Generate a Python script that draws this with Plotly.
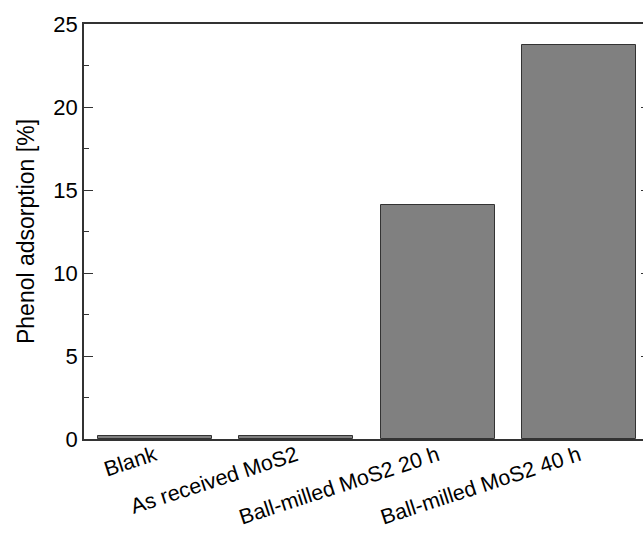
import plotly.graph_objects as go

categories = ["Blank", "As received MoS2", "Ball-milled MoS2 20 h", "Ball-milled MoS2 40 h"]
values = [0.2, 0.2, 14.1, 23.75]
y_ticks = [0, 5, 10, 15, 20, 25]

fig = go.Figure()
fig.add_trace(go.Bar(
    x=list(range(len(categories))), y=values,
    width=0.806,
    marker=dict(color="#808080", line=dict(color="#333333", width=1)),
))
# invisible trace for the mirrored right-side ticks
fig.add_trace(go.Scatter(x=[0], y=[0], yaxis="y2", mode="markers",
                         marker=dict(opacity=0), hoverinfo="skip", showlegend=False))

axis_col = "#333333"
fig.update_layout(
    width=643, height=535,
    margin=dict(l=84, r=0, t=24, b=96),
    paper_bgcolor="white", plot_bgcolor="white",
    showlegend=False,
    font=dict(family="Liberation Sans, Arial, sans-serif", color="black"),
    bargap=0,
    xaxis=dict(
        range=[-0.5, 3.452],
        tickmode="array", tickvals=list(range(len(categories))), ticktext=categories,
        tickangle=-18, tickfont=dict(size=21.5), ticklabelstandoff=-6,
        showline=True, linecolor=axis_col, linewidth=1.5, mirror=True,
        ticks="", showgrid=False, zeroline=False,
    ),
    yaxis=dict(
        range=[0, 25],
        tickmode="array", tickvals=y_ticks,
        tickfont=dict(size=22),
        ticks="inside", ticklen=9, tickcolor=axis_col, tickwidth=1.2,
        minor=dict(dtick=2.5, ticks="inside", ticklen=5, tickcolor=axis_col, tickwidth=1.2, showgrid=False),
        showline=True, linecolor=axis_col, linewidth=1.5,
        showgrid=False, zeroline=False,
        title=dict(text="Phenol adsorption [%]", font=dict(size=23), standoff=12),
    ),
    yaxis2=dict(
        overlaying="y", side="right", range=[0, 25],
        tickmode="array", tickvals=y_ticks, showticklabels=False,
        ticks="inside", ticklen=2, tickcolor=axis_col, tickwidth=1.2,
        showline=False, showgrid=False, zeroline=False,
    ),
)

fig.write_html("out.html")
